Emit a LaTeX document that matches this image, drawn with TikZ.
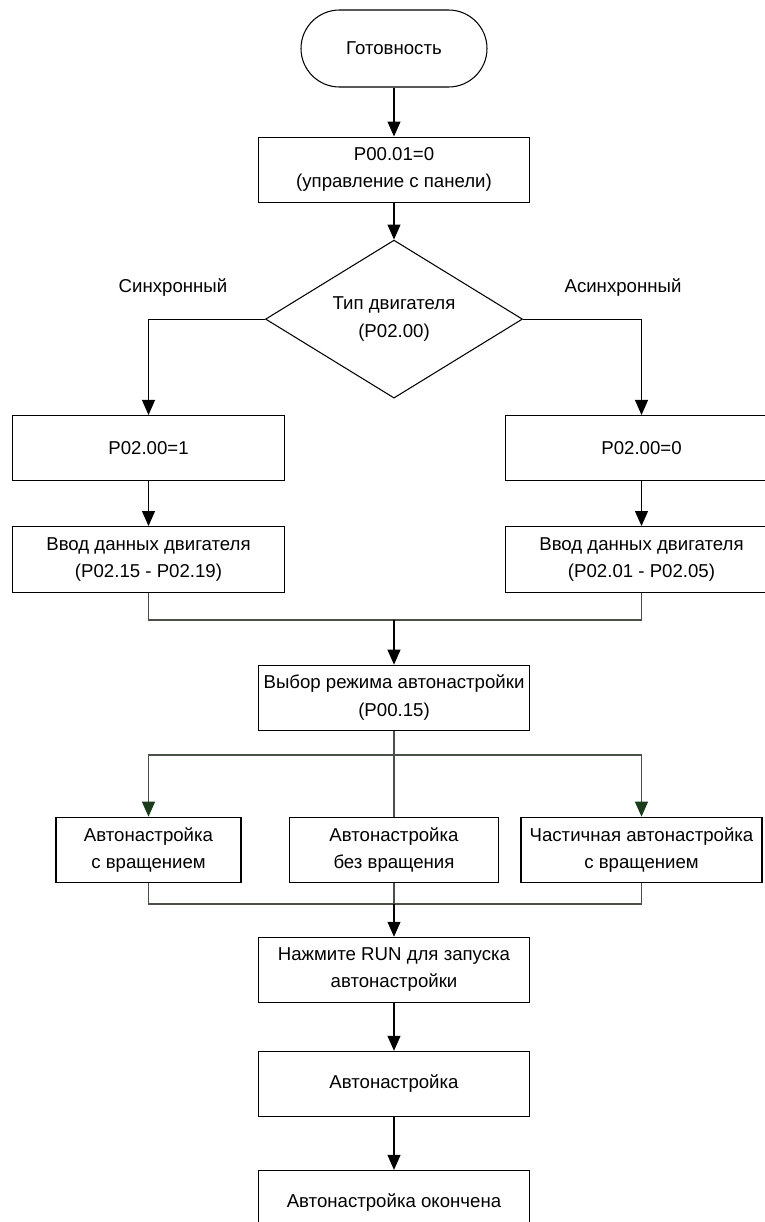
\documentclass[tikz,border=0pt]{standalone}
\usepackage{fontspec}
\setmainfont{Liberation Sans}
\usetikzlibrary{positioning,arrows.meta,shapes.geometric}
\definecolor{branchgreen}{RGB}{28,60,30}
\definecolor{joingray}{RGB}{72,80,72}

\begin{document}
\begin{tikzpicture}[
    every node/.style={font=\fontsize{10.6pt}{15.6pt}\selectfont},
    box/.style={draw, line width=0.6pt, minimum width=5.42cm, minimum height=1.3cm, align=center, inner sep=2pt},
    terminal/.style={draw, line width=0.6pt, rounded corners=0.77cm, minimum width=3.72cm, minimum height=1.54cm},
    decision/.style={diamond, draw, line width=0.6pt, aspect=1.63, inner sep=0pt, minimum width=5.14cm, minimum height=3.16cm, align=center},
    arrow/.style={-{Triangle[length=0.3cm, width=0.26cm]}, line width=0.6pt},
    greenarrow/.style={-{Triangle[length=0.3cm, width=0.26cm, color=branchgreen]}, line width=0.6pt, draw=joingray},
    line/.style={line width=0.6pt, draw=joingray}
]
\useasboundingbox (0,0) rectangle (15.3,-24.44);

\node[terminal] (ready) at (7.88,-0.97) {Готовность};
\node[box, below=0.98cm of ready] (panel) {P00.01=0\\(управление с панели)};
\node[decision, below=0.74cm of panel] (motor) {Тип двигателя\\(P02.00)};

\node (synlbl) at (3.46,-5.76) {Синхронный};
\node (asynlbl) at (12.46,-5.76) {Асинхронный};

\node[box, minimum width=5.44cm] (syn) at (2.97,-8.96) {P02.00=1};
\node[box, minimum width=5.44cm] (asyn) at (12.83,-8.96) {P02.00=0};
\node[box, minimum width=5.44cm, minimum height=1.32cm, below=0.9cm of syn] (syndata) {Ввод данных двигателя\\(P02.15 - P02.19)};
\node[box, minimum width=5.44cm, minimum height=1.32cm, below=0.9cm of asyn] (asyndata) {Ввод данных двигателя\\(P02.01 - P02.05)};

\node[box, below=5.32cm of motor] (mode) {Выбор режима автонастройки\\(P00.15)};
\node[box, minimum width=4.18cm, below=1.72cm of mode] (static) {Автонастройка\\без вращения};
\node[box, minimum width=3.7cm] (rotary) at (static -| syn) {Автонастройка\\с вращением};
\node[box, minimum width=4.82cm] (partial) at (static -| asyn) {Частичная автонастройка\\с вращением};

\node[box, below=1.08cm of static] (run) {Нажмите RUN для запуска\\автонастройки};
\node[box, below=0.96cm of run] (tuning) {Автонастройка};
\node[box, below=1.06cm of tuning] (done) {Автонастройка окончена};

\coordinate (join1) at (mode.north |- 0,-12.4);
\coordinate (split) at (mode.south |- 0,-15.1);
\coordinate (join2) at (run.north |- 0,-18.08);

\draw[arrow] (ready) -- (panel);
\draw[arrow] (panel) -- (motor);
\draw[arrow] (motor.west) -| (syn.north);
\draw[arrow] (motor.east) -| (asyn.north);
\draw[arrow] (syn) -- (syndata);
\draw[arrow] (asyn) -- (asyndata);

\draw[line] (syndata.south) |- (join1);
\draw[line] (asyndata.south) |- (join1);
\draw[arrow] (join1) -- (mode);

\draw[line] (mode.south) -- (static.north);
\draw[greenarrow] (split) -| (rotary.north);
\draw[greenarrow] (split) -| (partial.north);

\draw[line] (rotary.south) |- (join2);
\draw[line] (partial.south) |- (join2);
\draw[line] (static.south) -- (join2);
\draw[arrow] (join2) -- (run);
\draw[arrow] (run) -- (tuning);
\draw[arrow] (tuning) -- (done);

\end{tikzpicture}
\end{document}
